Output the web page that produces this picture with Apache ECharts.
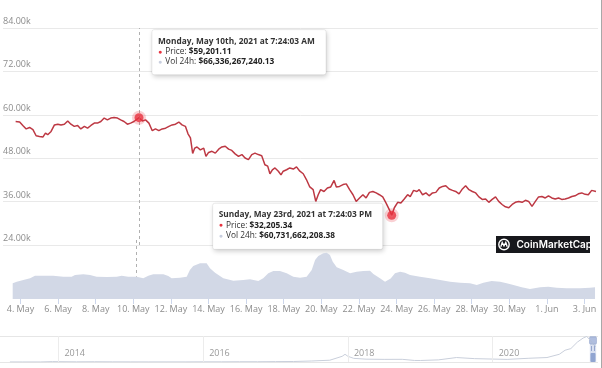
<!DOCTYPE html>
<html><head><meta charset="utf-8">
<script src="https://cdn.jsdelivr.net/npm/echarts@6/dist/echarts.min.js"></script>
<style>html,body{margin:0;padding:0;background:#fff}#c{width:602px;height:368px}</style>
</head><body><div id="c"></div>
<script>
// ---- data (x = day of May 2021; 32 = 1 Jun) ----
const priceDays = [3.585,3.80,3.97,4.15,4.33,4.51,4.68,4.86,5.04,5.18,
5.30,5.48,5.66,5.84,6.01,6.19,6.37,6.54,6.72,6.90,
7.07,7.26,7.43,7.61,7.79,7.96,8.14,8.32,8.49,8.67,
8.85,9.03,9.20,9.38,9.56,9.73,9.91,10.18,10.36,10.53,
10.71,10.89,11.06,11.24,11.42,11.60,11.78,11.95,12.13,12.31,
12.48,12.66,12.80,12.93,13.05,13.16,13.28,13.46,13.64,13.76,
13.90,14.08,14.26,14.44,14.61,14.79,14.97,15.14,15.32,15.50,
15.68,15.85,16.03,16.21,16.38,16.56,16.74,16.91,17.06,17.18,
17.31,17.45,17.63,17.77,17.89,18.07,18.24,18.43,18.60,18.78,
18.96,19.13,19.31,19.49,19.63,19.76,19.89,20.07,20.25,20.43,
20.61,20.73,20.90,21.09,21.26,21.44,21.62,21.79,21.97,22.15,
22.32,22.50,22.68,22.86,23.03,23.21,23.39,23.56,23.69,23.83,
24.01,24.18,24.36,24.54,24.68,24.86,25.04,25.16,25.34,25.52,
25.69,25.87,26.05,26.23,26.41,26.58,26.76,26.94,27.11,27.29,
27.47,27.64,27.82,28.00,28.18,28.35,28.53,28.71,28.88,29.06,
29.24,29.41,29.59,29.77,29.95,30.13,30.30,30.48,30.66,30.84,
31.01,31.19,31.37,31.54,31.72,31.90,32.07,32.25,32.43,32.61,
32.78,32.96,33.14,33.32,33.49,33.67,33.85,34.03,34.20,34.38,
34.47,34.61];
const priceUsd = [58150,58000,57050,56100,56500,55900,54200,54000,53850,54950,
54500,55400,57200,57400,57200,57400,58300,57400,56800,57050,
56100,56800,56300,57050,57700,57700,58150,59100,58600,59100,
59250,59100,58600,58150,57400,57700,58150,59201.11,58300,58600,
57700,55600,56100,55600,56100,56300,56800,57200,57400,58000,
57200,56800,54750,53600,49300,50800,51100,50300,50800,48500,
49600,49900,49400,50500,51100,51300,50500,50150,49200,48500,
49000,48050,47600,49000,49400,49000,48700,46200,45800,43700,
44800,45300,44400,43400,44400,44800,45300,45000,45600,44400,
43700,42100,40050,39300,36050,37900,39300,38800,39750,40050,
41850,40050,40200,40700,40900,39300,37900,36050,37000,37900,
37000,38550,38800,38400,37900,37300,35600,33800,32205.34,34300,
35800,35600,36700,37900,37400,39100,38800,39300,37900,38400,
37600,38400,38550,39750,40200,40400,39500,39100,38800,38150,
39500,40400,39300,38800,38400,37300,36600,36700,35800,36600,
37300,36050,35200,34550,34300,35200,35800,36050,35800,36350,
36050,34700,36050,37300,37400,37000,37600,37000,36700,37000,
36600,36700,37000,37400,37600,38150,38400,38000,37900,39100,
39500,38800];
const volDays = [3.585,3.80,4.15,4.51,4.77,5.21,5.74,6.28,6.72,6.90,
7.34,7.70,8.05,8.59,9.12,9.38,9.73,10.18,10.53,10.80,
11.06,11.60,11.86,12.04,12.48,12.84,13.01,13.19,13.55,13.90,
14.08,14.35,14.79,15.32,15.85,16.21,16.65,16.91,17.18,17.45,
17.80,18.16,18.51,18.87,19.22,19.49,19.67,19.84,20.11,20.29,
20.46,20.61,20.82,21.17,21.53,21.88,22.23,22.59,22.77,23.12,
23.39,23.69,23.92,24.19,24.45,24.72,25.25,25.78,26.32,26.85,
27.38,27.91,28.27,28.62,29.06,29.51,29.86,30.22,30.66,31.10,
31.64,32.07,32.52,33.05,33.76,34.29,34.56];
const volBn = [46.6,51.4,56.4,61.5,69.2,69.2,69.2,66.2,66.2,71.3,
73.4,71.3,66.2,65.3,66.2,69.2,66.2,66.34,61.5,69.2,
73.4,73.4,68.3,61.5,63.3,66.2,86.1,98.0,106.0,106.0,
91.2,78.1,61.5,54.4,56.4,58.5,53.5,61.5,76.3,83.2,
83.2,76.3,66.2,63.3,66.2,86.1,115.8,127.7,135.7,137.5,
130.7,110.8,94.1,86.1,76.3,81.1,83.2,84.1,74.3,61.5,
51.4,60.73,76.3,81.1,78.1,71.3,66.2,61.5,56.4,51.4,
48.4,46.6,41.6,48.4,53.5,51.4,46.6,41.6,34.7,29.7,
34.7,36.5,33.6,31.8,31.8,33.6,34.7];
const xTickDays = [4,6,8,10,12,14,16,18,20,22,24,26,28,30,32,34];
const hiDays = [10.18, 23.69];
const hiPrice = [59201.11, 32205.34];
const hiVol = [66336267240.13, 60731662208.38];
const hiTitles = ['Monday, May 10th, 2021 at 7:24:03 AM', 'Sunday, May 23rd, 2021 at 7:24:03 PM'];
const navYears = [2013.33,2013.5,2013.75,2013.92,2014.0,2014.25,2014.5,2014.75,2015.0,2015.25,2015.5,2015.75,
2016.0,2016.25,2016.5,2016.75,2017.0,2017.25,2017.5,2017.75,2017.92,2017.96,2018.0,2018.08,2018.25,2018.5,
2018.75,2018.92,2019.0,2019.25,2019.5,2019.75,2020.0,2020.2,2020.5,2020.75,2020.92,2021.0,2021.08,2021.17,
2021.25,2021.3,2021.37,2021.42];
const navUsd = [130,90,140,1000,770,450,630,390,300,230,260,240,
430,450,650,620,990,1200,2500,4400,14000,19000,14000,9000,7000,6500,
6600,3800,3700,5200,11000,8300,7200,6400,9200,11000,19000,29000,33000,49000,
59000,63000,49000,38000];
const navTickYears = [2014, 2016, 2018, 2020];

// ---- chart ----
const FONT = 'Open Sans';
const chart = echarts.init(document.getElementById('c'), null, {renderer: 'canvas'});
const X_MIN = 2.9096, X_MAX = 34.718;
const zip = (a, b) => a.map((v, i) => [v, b[i]]);
const fmtDay = d => d <= 31 ? d + '. May' : (d - 31) + '. Jun';

chart.setOption({
  animation: false,
  backgroundColor: '#fff',
  grid: [
    {left: 0, width: 598, top: 28, bottom: 123},
    {left: 0, width: 598, top: 240, bottom: 69},
    {left: 0, width: 598, top: 336, bottom: 6}
  ],
  xAxis: [
    {gridIndex: 0, type: 'value', min: X_MIN, max: X_MAX, show: false},
    {gridIndex: 1, type: 'value', min: X_MIN, max: X_MAX,
      axisLine: {show: false}, splitLine: {show: false},
      axisTick: {show: true, customValues: xTickDays, length: 5, lineStyle: {color: '#ccd6eb'}},
      axisLabel: {customValues: xTickDays, formatter: fmtDay, margin: 6, color: '#8c8c8c', fontSize: 9, fontFamily: FONT}},
    {gridIndex: 2, type: 'value', min: 2013.193, max: 2021.455,
      axisLine: {show: false}, splitLine: {show: false}, axisTick: {show: false},
      axisLabel: {customValues: navTickYears, inside: true, align: 'left', padding: [0, 0, 0, 6], margin: 4,
        color: '#999', fontSize: 9, fontFamily: FONT, formatter: v => String(v)}}
  ],
  yAxis: [
    {gridIndex: 0, type: 'value', min: 24000, max: 84000, interval: 12000,
      axisLine: {show: false}, axisTick: {show: false},
      splitLine: {lineStyle: {color: '#e9e9e9'}},
      axisLabel: {inside: true, align: 'left', verticalAlign: 'bottom', margin: 0, padding: [0, 0, 2, 0],
        color: '#8c8c8c', fontSize: 9, fontFamily: FONT,
        formatter: v => (v / 1000).toFixed(2) + 'k'}},
    {gridIndex: 1, type: 'value', min: 0, max: 175, show: false},
    {gridIndex: 2, type: 'value', min: 0, max: 64000, interval: 64000,
      axisLine: {show: false}, axisTick: {show: false}, axisLabel: {show: false},
      splitLine: {lineStyle: {color: '#e6e6e6'}}}
  ],
  series: [
    {type: 'line', name: 'Vol 24h', xAxisIndex: 1, yAxisIndex: 1, data: zip(volDays, volBn),
      symbol: 'none', lineStyle: {width: 0}, areaStyle: {color: '#d2d8e6', opacity: 1},
      markLine: {silent: true, symbol: 'none', label: {show: false},
        lineStyle: {type: [3, 3], color: '#b0b0b0', width: 1},
        data: [[{coord: [hiDays[0], 175]}, {coord: [hiDays[0], hiVol[0] / 1e9]}]]}},
    {type: 'line', name: 'Price', xAxisIndex: 0, yAxisIndex: 0, data: zip(priceDays, priceUsd),
      symbol: 'none', lineStyle: {width: 1.5, color: '#bd3843'}, z: 3,
      markLine: {silent: true, symbol: 'none', label: {show: false},
        lineStyle: {type: [3, 3], color: '#b0b0b0', width: 1},
        data: [{xAxis: hiDays[0]}]}},
    {type: 'scatter', xAxisIndex: 0, yAxisIndex: 0, data: zip(hiDays, hiPrice), z: 5,
      symbolSize: 9, itemStyle: {color: '#e8323f', borderColor: 'rgba(232,50,63,0.28)', borderWidth: 5}},
    {type: 'line', name: 'Navigator', xAxisIndex: 2, yAxisIndex: 2, data: zip(navYears, navUsd),
      symbol: 'none', lineStyle: {width: 1, color: '#c9cfdb'},
      markLine: {silent: true, symbol: 'none', label: {show: false},
        lineStyle: {type: 'solid', color: '#ececec', width: 1},
        data: navTickYears.map(y => ({xAxis: y}))}}
  ]
});

// ---- annotations (tooltips, logo, navigator handle) ----
function fmtMoney(v) {
  return '$' + v.toLocaleString('en-US', {minimumFractionDigits: 2, maximumFractionDigits: 2});
}
function tip(i, left, top, w, h) {
  const fs = 8.3, lh = 10.3;
  return {
    type: 'group', x: left, y: top, z: 100,
    children: [
      {type: 'rect', shape: {x: 0, y: 0, width: w, height: h, r: 2},
        style: {fill: '#fff', stroke: 'rgba(0,0,0,0.07)', lineWidth: 1,
          shadowBlur: 5, shadowOffsetX: 1, shadowOffsetY: 2, shadowColor: 'rgba(0,0,0,0.2)'}},
      {type: 'text', x: 6, y: 6.5, style: {
        text: '{t|' + hiTitles[i] + '}\n{r|●} {n|Price: }{b|' + fmtMoney(hiPrice[i]) + '}\n{v|●} {n|Vol 24h: }{b|' + fmtMoney(hiVol[i]) + '}',
        fontFamily: FONT, verticalAlign: 'top', lineHeight: lh,
        rich: {
          t: {fontFamily: FONT, fontSize: fs, fontWeight: 'bold', fill: '#333', lineHeight: lh},
          r: {fontFamily: FONT, fontSize: 7, fill: '#e8323f', lineHeight: lh},
          v: {fontFamily: FONT, fontSize: 7, fill: '#c9cfdf', lineHeight: lh},
          n: {fontFamily: FONT, fontSize: fs, fill: '#333', lineHeight: lh},
          b: {fontFamily: FONT, fontSize: fs, fontWeight: 'bold', fill: '#222', lineHeight: lh}
        }}}
    ]
  };
}
const p1 = chart.convertToPixel({gridIndex: 0}, [hiDays[0], hiPrice[0]]);
const p2 = chart.convertToPixel({gridIndex: 0}, [hiDays[1], hiPrice[1]]);
const winStart = chart.convertToPixel({gridIndex: 2}, [2021 + (122 + 2.9) / 365, 0]);
const winEnd = chart.convertToPixel({gridIndex: 2}, [2021 + (122 + 34.7) / 365, 0]);
const navTop = chart.convertToPixel({gridIndex: 2}, [2021, 64000])[1];
const navBot = winStart[1];
const hx = (winStart[0] + winEnd[0]) / 2;

chart.setOption({
  graphic: [
    tip(0, p1[0] + 13, p1[1] - 88, 174, 45),
    tip(1, p2[0] - 179, p2[1] - 12, 170, 46),
    {type: 'group', x: 496, y: 236, z: 90, children: [
      {type: 'rect', shape: {x: 0, y: 0, width: 94, height: 17}, style: {fill: '#17181c'}},
      {type: 'circle', shape: {cx: 8, cy: 8.5, r: 5.2}, style: {fill: 'none', stroke: '#fff', lineWidth: 1.4}},
      {type: 'polyline', shape: {points: [[4.8, 10.8], [6.2, 6.5], [8, 9.8], [9.8, 6.5], [11.2, 10.8]]},
        style: {fill: 'none', stroke: '#fff', lineWidth: 1.3}},
      {type: 'text', x: 20.5, y: 8.8, style: {text: 'CoinMarketCap', fill: '#fff', fontFamily: 'Inter',
        fontSize: 10, fontWeight: 600, verticalAlign: 'middle'}},
      {type: 'rect', shape: {x: 94, y: 0, width: 10, height: 17}, style: {fill: '#fff'}}
    ]},
    {type: 'rect', z: 80, shape: {x: winStart[0], y: navTop, width: Math.max(2, winEnd[0] - winStart[0]), height: navBot - navTop},
      style: {fill: 'rgba(102,133,194,0.25)'}},
    {type: 'group', x: hx, y: navTop, z: 81, children: [
      {type: 'rect', shape: {x: -3.5, y: 1, width: 7, height: 7, r: 1}, style: {fill: '#c9d2e8', stroke: '#aab7d6', lineWidth: 0.8}},
      {type: 'line', shape: {x1: -1.5, y1: 10, x2: -1.5, y2: 15}, style: {stroke: '#a3b0cf', lineWidth: 1}},
      {type: 'line', shape: {x1: 1.5, y1: 10, x2: 1.5, y2: 15}, style: {stroke: '#a3b0cf', lineWidth: 1}},
      {type: 'rect', shape: {x: -2.5, y: 17, width: 5, height: navBot - navTop - 17, r: 1}, style: {fill: '#9fb0d6'}}
    ]},
    {type: 'line', z: 120, shape: {x1: 601.5, y1: 0, x2: 601.5, y2: 368}, style: {stroke: '#a8a8a8', lineWidth: 1}}
  ]
});
</script></body></html>
